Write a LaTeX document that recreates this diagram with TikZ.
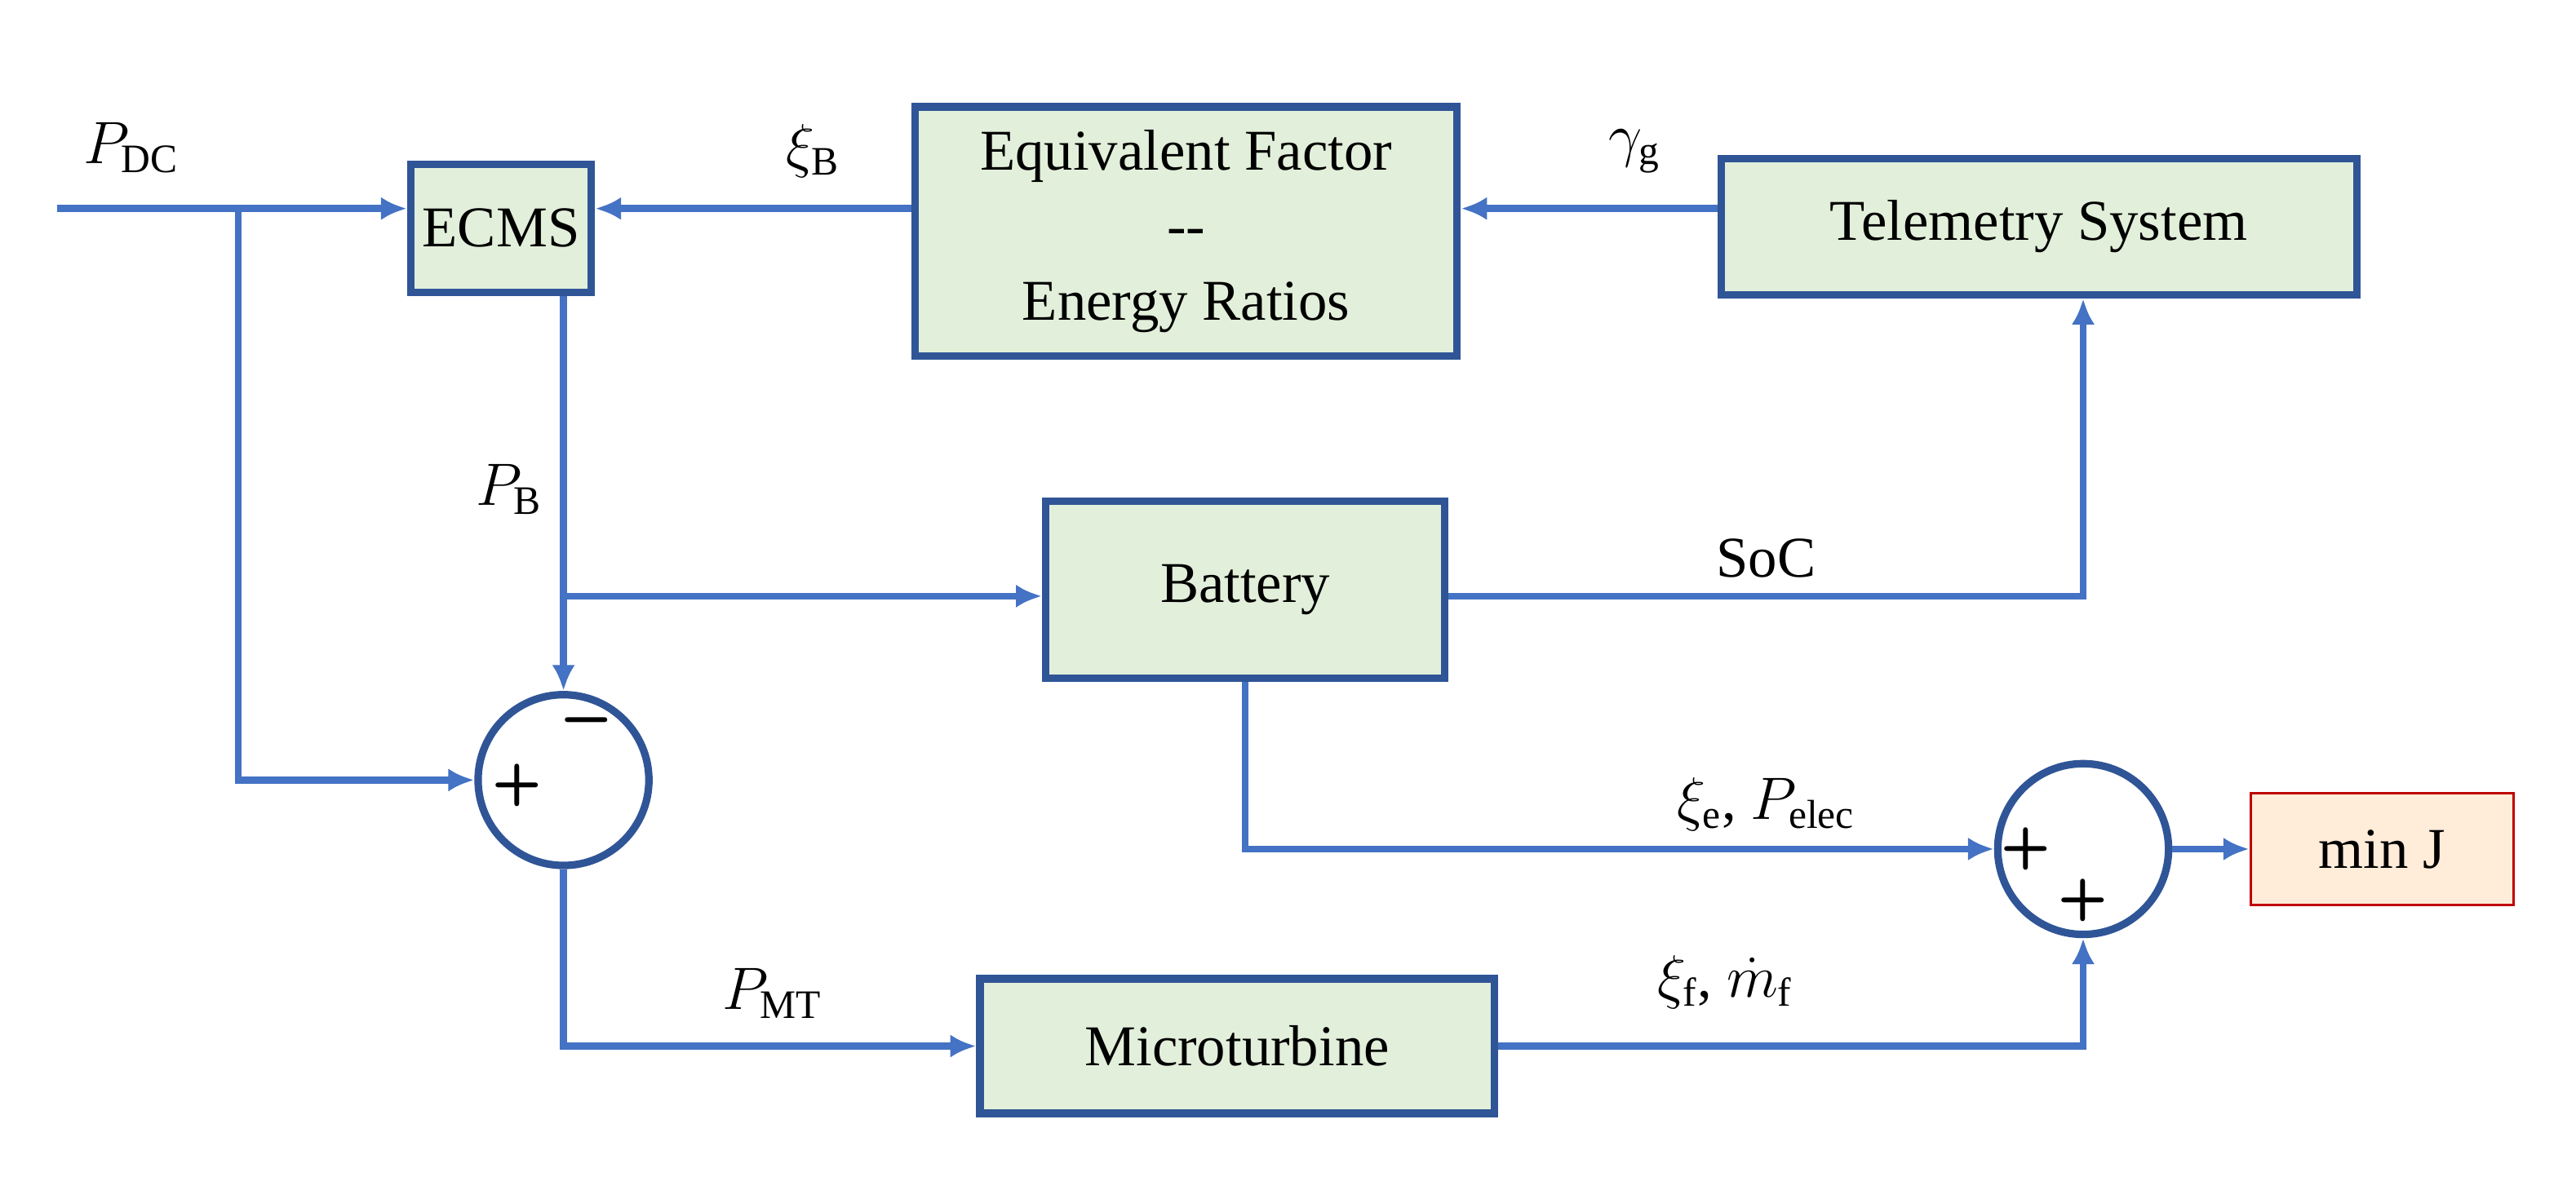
\documentclass[tikz,border=0pt]{standalone}
\usepackage{fontspec}
\setmainfont{Liberation Serif}
\usetikzlibrary{arrows.meta}
\definecolor{ln}{RGB}{68,114,196}
\definecolor{bd}{RGB}{47,85,151}
\definecolor{bf}{RGB}{226,239,218}
\begin{document}
\begin{tikzpicture}[x=0.02cm,y=-0.02cm,
  box/.style={draw=bd,line width=2.6pt,fill=bf,inner sep=0pt,font=\fontsize{20}{26}\selectfont,align=center},
  sum/.style={circle,draw=bd,line width=2.6pt,minimum size=2.08cm,inner sep=0pt},
  w/.style={draw=ln,line width=2.4pt},
  a/.style={w,-{Latex[length=9pt,width=8pt]}},
  lb/.style={font=\fontsize{20}{24}\selectfont},
  sg/.style={font=\sffamily\bfseries\fontsize{20}{22}\selectfont}]
\useasboundingbox (0,0) rectangle (1568,730);
\node[box,minimum width=2.2cm,minimum height=1.56cm] (ecms) at (305,139) {ECMS};
\node[box,minimum width=6.6cm,minimum height=3.04cm] (ef) at (722,141) {Equivalent Factor\\{-}{-}\\Energy Ratios};
\node[box,minimum width=7.74cm,minimum height=1.66cm] (tel) at (1241,138) {Telemetry System};
\node[box,minimum width=4.86cm,minimum height=2.16cm] (bat) at (758,359) {Battery};
\node[box,minimum width=6.26cm,minimum height=1.64cm] (mt) at (753,637) {Microturbine};
\node[draw=red!75!black,line width=1pt,fill=orange!15,minimum width=3.2cm,minimum height=1.36cm,lb] (j) at (1450,517) {min J};
\node[sum] (s1) at (343,475) {};
\node[sum] (s2) at (1268,517) {};
\coordinate (in) at (35,127);
\coordinate (b1) at (145,127);
\coordinate (b2) at (343,363);
\draw[a] (in) -- (ecms.west|-in);
\draw[a] (b1) |- (s1.west);
\draw[a] (ef.west|-in) -- (ecms.east|-in);
\draw[a] (tel.west|-in) -- (ef.east|-in);
\draw[a] (ecms.south-|s1) -- (s1.north);
\draw[a] (b2) -- (bat.west|-b2);
\draw[a] (bat.east|-b2) -| (tel.south-|s2);
\draw[a] (bat.south) |- (s2.west);
\draw[a] (s1.south) |- (mt.west);
\draw[a] (mt.east) -| (s2.south);
\draw[a] (s2.east) -- (j.west);
\node[lb] at (80,90) {$P_{\mathrm{DC}}$};
\node[lb] at (495,92) {$\xi_{\mathrm{B}}$};
\node[lb] at (995,92) {$\gamma_{\mathrm{g}}$};
\node[lb] at (310,298) {$P_{\mathrm{B}}$};
\node[lb] at (1075,340) {SoC};
\node[lb] at (1075,490) {$\xi_{\mathrm{e}}$, $P_{\mathrm{elec}}$};
\node[lb] at (470,605) {$P_{\mathrm{MT}}$};
\node[lb] at (1050,598) {$\xi_{\mathrm{f}}$, $\dot m_{\mathrm{f}}$};
\node[sg] at (357,442) {\textminus};
\node[sg] at (315,478) {+};
\node[sg] at (1233,517) {+};
\node[sg] at (1268,548) {+};
\end{tikzpicture}
\end{document}
